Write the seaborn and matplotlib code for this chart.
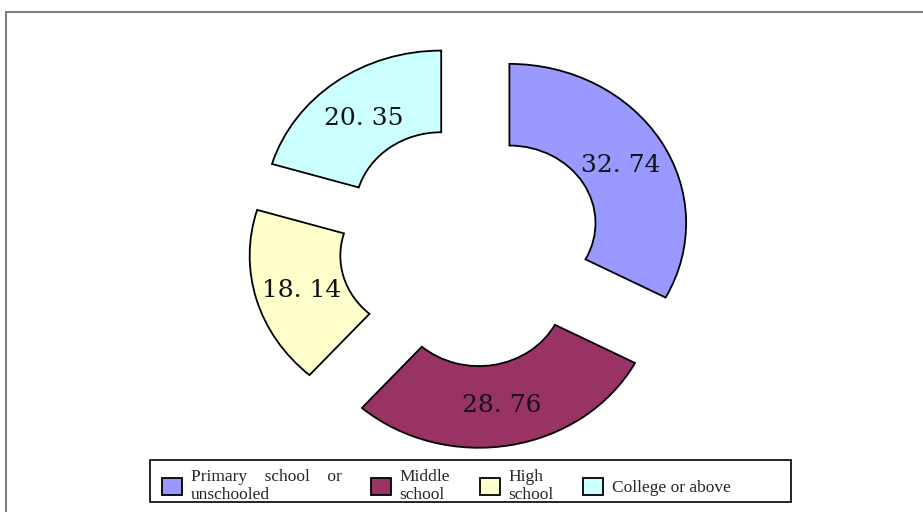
import numpy as np
import matplotlib
matplotlib.use("Agg")
import matplotlib.pyplot as plt
import seaborn as sns
from matplotlib.lines import Line2D
from matplotlib.patches import Rectangle

# Data
categories = ["Primary    school    or\nunschooled", "Middle\nschool", "High\nschool", "College or above"]
values = [32.74, 28.76, 18.14, 20.35]
colors = ["#9999FF", "#993366", "#FFFFCC", "#CCFFFF"]

sns.set_theme(style="white")
plt.rcParams["font.family"] = ["DejaVu Serif"]

fig = plt.figure(figsize=(9.23, 5.12), dpi=100)
ax = fig.add_axes([0, 0, 1, 1])

wedges, _ = ax.pie(
    values,
    colors=colors,
    startangle=90,
    counterclock=False,
    explode=[0.261, 0.281, 0.256, 0.272],
    radius=1.0,
    wedgeprops=dict(width=0.513, edgecolor="black", linewidth=1.3),
)

# stretched (elliptical) look like the original
ax.set_aspect("auto")
ax.set_xlim(-2.659, 2.564)
ax.set_ylim(-1.680, 1.536)
ax.axis("off")

# value labels in the middle of each ring segment
for w, v in zip(wedges, values):
    mid = np.deg2rad((w.theta1 + w.theta2) / 2)
    rho = w.r - w.width / 2 - 0.01
    cx, cy = w.center
    ax.text(cx + rho * np.cos(mid), cy + rho * np.sin(mid),
            f"{v:.2f}".replace(".", ". "),
            ha="center", va="center_baseline", fontsize=18,
            family="DejaVu Serif", color="#111111")

# legend box drawn separately so its size matches the original
fig.add_artist(Rectangle((150 / 923, 10 / 512), 641 / 923, 42 / 512,
                         transform=fig.transFigure, fill=False,
                         edgecolor="black", lw=1.2))
leg = fig.legend(
    wedges, categories,
    loc="center left",
    bbox_to_anchor=(162 / 923, 1 - 486 / 512),
    ncol=4, frameon=False,
    prop={"family": "Liberation Serif", "size": 12.5},
    handlelength=1.15, handleheight=1.15, handletextpad=0.5,
    columnspacing=1.7, borderpad=0, labelspacing=0.2, borderaxespad=0,
)
for t in leg.get_texts():
    t.set_linespacing(1.12)

# outer chart frame (left + top only visible)
fig.add_artist(Line2D([6 / 923, 6 / 923], [0, 1 - 12 / 512],
                      transform=fig.transFigure, color="#7f7f7f", lw=1.5))
fig.add_artist(Line2D([6 / 923, 1], [1 - 12 / 512, 1 - 12 / 512],
                      transform=fig.transFigure, color="#7f7f7f", lw=1.5))

fig.savefig("out.png", dpi=100)
